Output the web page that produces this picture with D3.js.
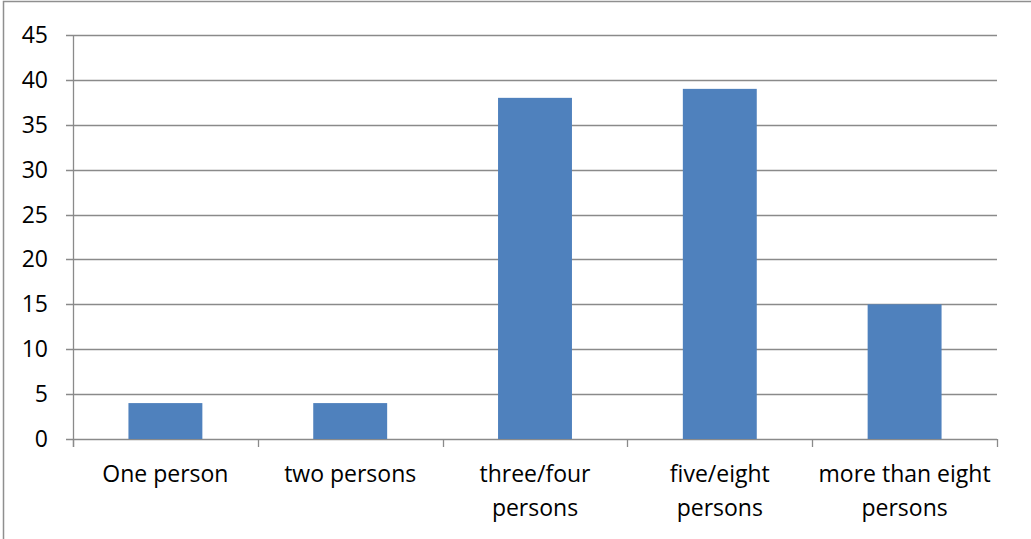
<!DOCTYPE html>
<html><head><meta charset="utf-8">
<script src="https://cdn.jsdelivr.net/npm/d3@7"></script>
<style>body{margin:0;background:#fff}svg{display:block}</style>
</head><body>
<svg id="c" width="1031" height="539"></svg>
<script>
const categories = ["One person", "two persons", "three/four\npersons", "five/eight\npersons", "more than eight\npersons"];
const values = [4, 4, 38, 39, 15];
const yTicks = [0, 5, 10, 15, 20, 25, 30, 35, 40, 45];

const svg = d3.select("#c");
const m = {left: 73, right: 997, top: 35, bottom: 439};
const font = "'Open Sans', sans-serif";
const grid = "#8a8a8a";

// outer frame
svg.append("rect").attr("x", 3.5).attr("y", 1.5).attr("width", 1040).attr("height", 560)
  .attr("fill", "none").attr("stroke", "#8f8f8f").attr("stroke-width", 1.5);

const x = d3.scaleBand().domain(categories).range([m.left, m.right]).paddingInner(0.6).paddingOuter(0.3);
const xb = d3.scaleBand().domain(categories).range([m.left, m.right]);
const y = d3.scaleLinear().domain([0, 45]).range([m.bottom, m.top]);

// gridlines
svg.append("g").selectAll("line").data(yTicks).join("line")
  .attr("x1", m.left - 7).attr("x2", m.right)
  .attr("y1", d => Math.round(y(d)) + 0.5).attr("y2", d => Math.round(y(d)) + 0.5)
  .attr("stroke", grid).attr("stroke-width", 1.3);

// y axis line
svg.append("line").attr("x1", m.left + 0.5).attr("x2", m.left + 0.5)
  .attr("y1", m.top).attr("y2", m.bottom + 8).attr("stroke", grid).attr("stroke-width", 1.3);

// x ticks
const xt = [m.left, ...categories.map(c => xb(c) + xb.bandwidth())];
svg.append("g").selectAll("line").data(xt).join("line")
  .attr("x1", d => Math.round(d) + 0.5).attr("x2", d => Math.round(d) + 0.5)
  .attr("y1", m.bottom).attr("y2", m.bottom + 8)
  .attr("stroke", grid).attr("stroke-width", 1.3);

// y labels
svg.append("g").selectAll("text").data(yTicks).join("text")
  .attr("x", 48).attr("y", d => y(d) + 8)
  .attr("text-anchor", "end").attr("font-family", font).attr("font-size", 23)
  .attr("fill", "#000").text(d => d);

// bars
svg.append("g").selectAll("rect").data(values).join("rect")
  .attr("x", (d, i) => x(categories[i])).attr("width", x.bandwidth())
  .attr("y", d => y(d)).attr("height", d => y(0) - y(d))
  .attr("fill", "#4F81BD");

// x labels
const xl = svg.append("g").selectAll("text").data(categories).join("text")
  .attr("x", c => xb(c) + xb.bandwidth() / 2).attr("y", 482)
  .attr("text-anchor", "middle").attr("font-family", font).attr("font-size", 23).attr("fill", "#000");
xl.each(function(c) {
  const lines = c.split("\n");
  d3.select(this).selectAll("tspan").data(lines).join("tspan")
    .attr("x", xb(c) + xb.bandwidth() / 2).attr("dy", (d, i) => i === 0 ? 0 : 33.5).text(d => d);
});
</script>
</body></html>
